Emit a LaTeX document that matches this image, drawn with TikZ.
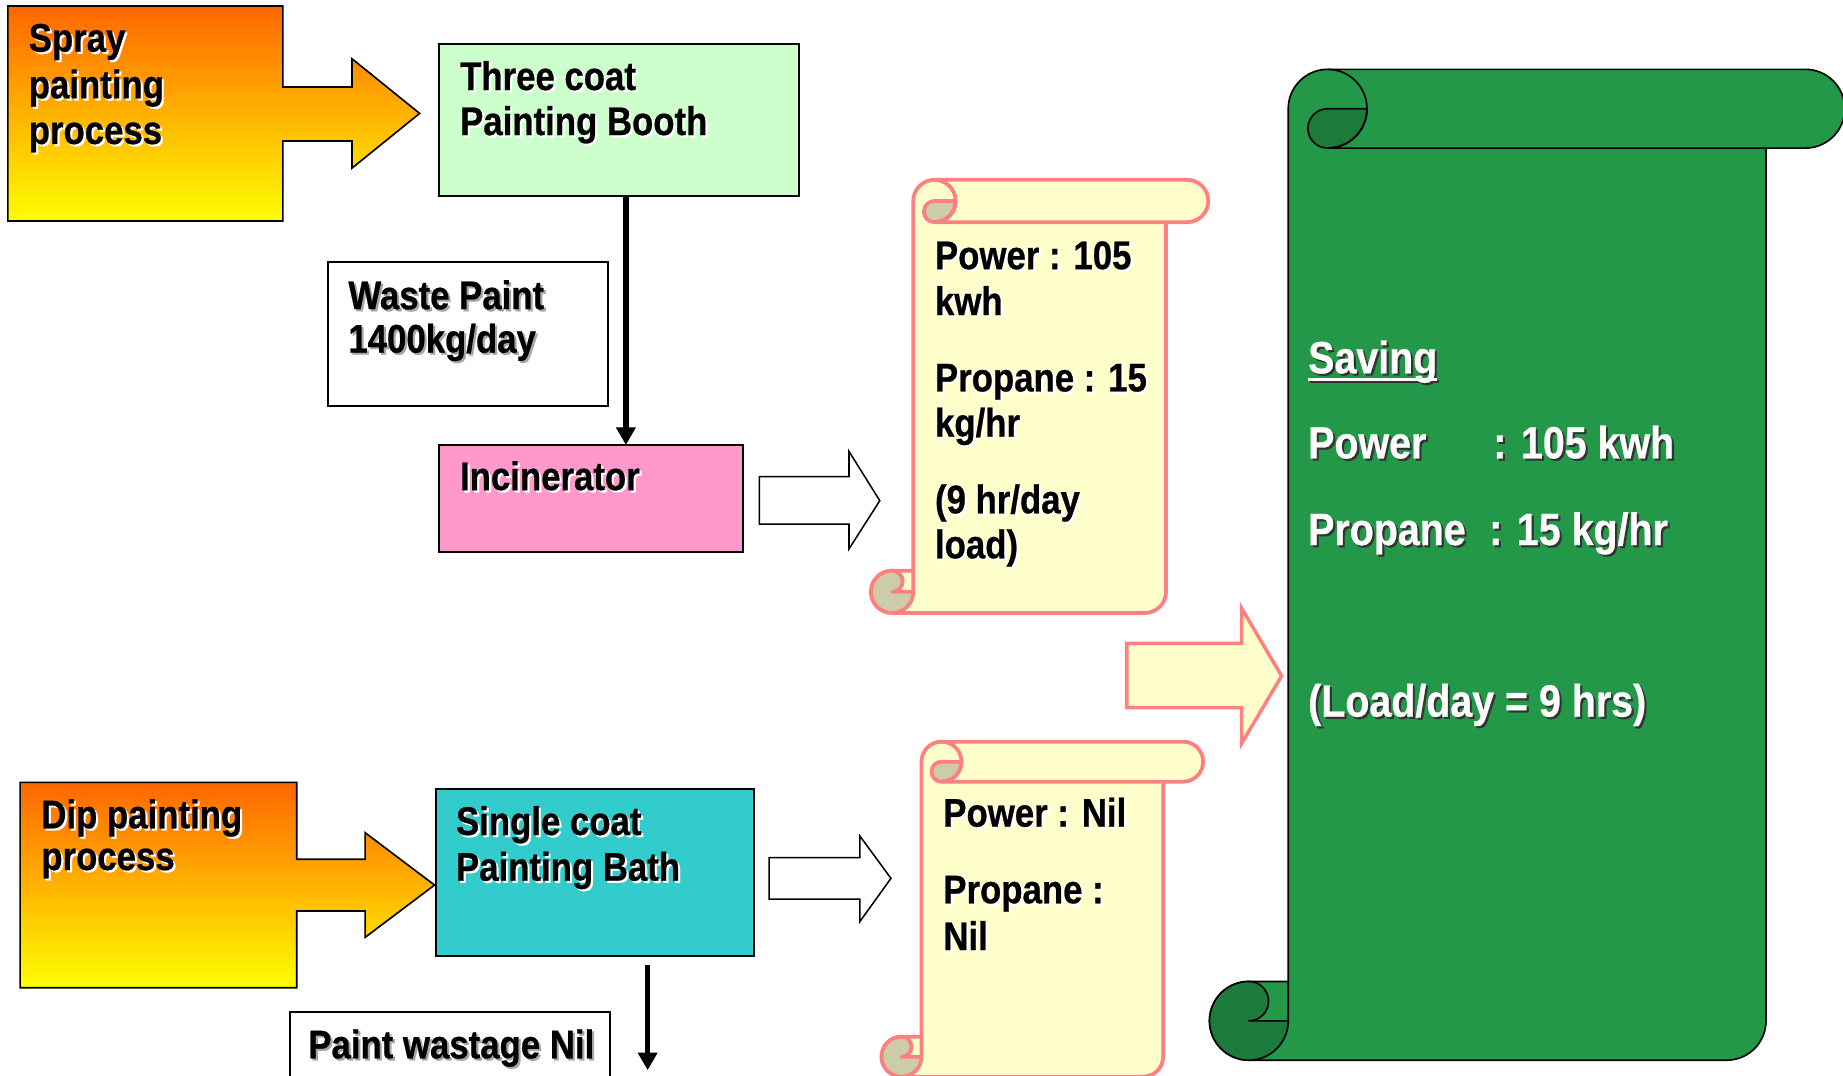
\documentclass[tikz,border=0pt]{standalone}
\usepackage{fontspec}
\setmainfont{Liberation Sans}[FakeStretch=0.87,BoldFeatures={FakeBold=0.6}]
\usetikzlibrary{arrows.meta,calc}

\definecolor{sprayorange}{RGB}{255,102,0}
\definecolor{sprayyellow}{RGB}{255,255,0}
\definecolor{boothgreen}{HTML}{CCFFCC}
\definecolor{incpink}{HTML}{FF99CC}
\definecolor{bathcyan}{HTML}{33CCCC}
\definecolor{paper}{HTML}{FFFFCC}
\definecolor{paperedge}{HTML}{FF8080}
\definecolor{papercurl}{HTML}{CCCCAA}
\definecolor{savegreen}{RGB}{35,152,72}
\definecolor{savecurl}{RGB}{28,122,58}

% text with a soft offset shadow: #1 shadow colour, #2 text
\newcommand\shd[2]{\rlap{\kern1.8pt\raisebox{-1.8pt}{\color{#1}#2}}#2}
% underlined word
\newcommand\ulbox[1]{\setbox0\hbox{#1}\rlap{\rule[-6.5pt]{\wd0}{2.4pt}}\box0}

% vertical scroll: #1 paper, #2 curl, #3 edge colour, #4 edge width,
% #5 body left, #6 top, #7 right end of the roll, #8 bottom, #9 roll size
\newcommand\scrollpaper[9]{%
  \pgfmathsetmacro\scL{#5}\pgfmathsetmacro\scT{#6}\pgfmathsetmacro\scR{#7}%
  \pgfmathsetmacro\scB{#8}\pgfmathsetmacro\scC{#9}%
  \pgfmathsetmacro\scH{\scC/2}\pgfmathsetmacro\scQ{\scC/4}%
  \pgfmathsetmacro\scBR{\scR-\scC}\pgfmathsetmacro\scX{\scL-\scH}%
  \pgfmathsetmacro\scY{\scB-\scH}\pgfmathsetmacro\scTH{\scT+\scH}%
  \pgfmathsetmacro\scTC{\scT+\scC}\pgfmathsetmacro\scBC{\scB-\scC}%
  \pgfmathsetmacro\scLH{\scL+\scH}\pgfmathsetmacro\scLC{\scL+\scC}%
  \pgfmathsetmacro\scRH{\scR-\scH}%
  \path[fill=#1,draw=#3,line width=#4,line join=round]
    (\scL,\scY) -- (\scL,\scTH)
    arc[start angle=180,end angle=90,radius=\scH pt] -- (\scRH,\scT)
    arc[start angle=90,end angle=-90,radius=\scH pt] -- (\scBR,\scTC) -- (\scBR,\scY)
    arc[start angle=0,end angle=-90,radius=\scH pt] -- (\scX,\scB)
    arc[start angle=270,end angle=90,radius=\scH pt] -- (\scL,\scBC) -- cycle;
  % bottom curl
  \path[fill=#2,draw=#3,line width=#4,line join=round]
    (\scX,\scBC) arc[start angle=90,end angle=360,radius=\scH pt] -- (\scX,\scY)
    arc[start angle=-90,end angle=90,radius=\scQ pt] -- cycle;
  % top curl
  \path[fill=#2,draw=#3,line width=#4,line join=round]
    (\scLH,\scTH) -- (\scLC,\scTH) arc[start angle=0,end angle=-90,radius=\scH pt]
    arc[start angle=270,end angle=90,radius=\scQ pt] -- cycle;
  \draw[#3,line width=#4,line cap=round]
    (\scLH,\scT) arc[start angle=90,end angle=-90,radius=\scH pt] -- (\scBR,\scTC);
}

\begin{document}
\begin{tikzpicture}[x=1pt,y=-1pt,
  box/.style={draw=black,line width=1.6pt,inner sep=0pt,outer sep=0pt,anchor=north west},
  txt/.style={inner sep=0pt,outer sep=0pt,anchor=base west,
    font=\bfseries\fontsize{34}{39}\selectfont},
  gtxt/.style={txt,text=white,font=\bfseries\fontsize{38.5}{44}\selectfont},
  sarrow/.style={line width=4.5pt,-{Triangle[length=15pt,width=16pt]}},
  hollow/.style={fill=white,draw=black,line width=1.3pt,line join=miter},
  gold/.style={draw=black,line width=1.4pt,line join=miter,
    top color=sprayorange,bottom color=sprayyellow}]
\useasboundingbox (0,0) rectangle (1568,915);
\clip (0,0) rectangle (1568,915);

% process sources with their block arrows
\path[gold] (6.7,5.1) -- (240.7,5.1) -- (240.7,74) -- (299.5,74) -- (299.5,50)
  -- (357,96.5) -- (299.5,143) -- (299.5,120) -- (240.7,120) -- (240.7,188)
  -- (6.7,188) -- cycle;
\path[gold] (17.1,665.6) -- (252.5,665.6) -- (252.5,731) -- (310.6,731)
  -- (310.6,708.4) -- (369.7,753) -- (310.6,797.5) -- (310.6,775) -- (252.5,775)
  -- (252.5,840.3) -- (17.1,840.3) -- cycle;

% boxes
\node[box,fill=boothgreen,minimum width=305.7pt,minimum height=128.8pt] (booth) at (373.8,37.7) {};
\node[box,fill=white,minimum width=238.6pt,minimum height=122.2pt] (waste) at (278.7,223.2) {};
\node[box,fill=incpink,minimum width=258.6pt,minimum height=91.4pt] (incin) at (373.4,378.6) {};
\node[box,fill=bathcyan,minimum width=270.1pt,minimum height=142pt] (bath) at (371.2,671.3) {};
\node[box,fill=white,minimum width=272.4pt,minimum height=70pt] (wastage) at (246.6,861.3) {};

% connectors
\draw[sarrow] ($(booth.south west)+(158.7,0)$) coordinate (drop) -- (drop |- incin.north);
\coordinate (wasteend) at (551,910.5);
\draw[sarrow] ($(bath.south west)+(179.8,8)$) -- (wasteend);

% hollow block arrows
\path[hollow] (646,405.5) -- (722.3,405.5) -- (722.3,384) -- (748.5,426)
  -- (722.3,467) -- (722.3,446) -- (646,446) -- cycle;
\path[hollow] (654.4,729.7) -- (731.6,729.7) -- (731.6,711.3) -- (758,747.3)
  -- (731.6,784) -- (731.6,765) -- (654.4,765) -- cycle;

% scrolls
\scrollpaper{paper}{papercurl}{paperedge}{3.2pt}{777}{153}{1028}{521.5}{36}
\scrollpaper{paper}{papercurl}{paperedge}{3.2pt}{784}{631}{1023.6}{916}{34}
\scrollpaper{savegreen}{savecurl}{black}{1.4pt}{1096}{59}{1569.5}{902}{67}

% arrow into the saving scroll
\path[fill=paper,draw=paperedge,line width=3pt,line join=miter]
  (958.6,547.3) -- (1056.4,547.3) -- (1056.4,517.6) -- (1090.4,575.1)
  -- (1056.4,632.4) -- (1056.4,602.1) -- (958.6,602.1) -- cycle;

% labels
\node[txt] (spray1) at (24.5,44) {\shd{white}{Spray}};
\node[txt] (spray2) at (24.5,83.7) {\shd{white}{painting}};
\node[txt] (spray3) at (24.5,122.5) {\shd{white}{process}};
\node[txt] (booth1) at (391.5,76.6) {\shd{white}{Three coat}};
\node[txt] (booth2) at (391.5,114.9) {\shd{white}{Painting Booth}};
\node[txt] (waste1) at (296.4,263) {\shd{black!35}{Waste Paint}};
\node[txt] (waste2) at (296.4,300) {\shd{black!35}{1400kg/day}};
\node[txt] (incin1) at (391.4,417) {\shd{white}{Incinerator}};
\node[txt] (dip1) at (35.2,704.7) {\shd{white}{Dip painting}};
\node[txt] (dip2) at (35.2,740.2) {\shd{white}{process}};
\node[txt] (bath1) at (388,710.4) {\shd{white}{Single coat}};
\node[txt] (bath2) at (388,749.3) {\shd{white}{Painting Bath}};
\node[txt] (wastage1) at (262.3,900.4) {\shd{black!35}{Paint wastage Nil}};

\node[txt] (inc1) at (795.5,229) {\shd{white}{Power : 105}};
\node[txt] (inc2) at (795.5,268) {\shd{white}{kwh}};
\node[txt] (inc3) at (795.5,333) {\shd{white}{Propane : 15}};
\node[txt] (inc4) at (795.5,371.5) {\shd{white}{kg/hr}};
\node[txt] (inc5) at (795.5,436.7) {\shd{white}{(9 hr/day}};
\node[txt] (inc6) at (795.5,475) {\shd{white}{load)}};

\node[txt] (dipr1) at (802.6,703.3) {\shd{white}{Power : Nil}};
\node[txt] (dipr2) at (802.6,768.5) {\shd{white}{Propane :}};
\node[txt] (dipr3) at (802.6,808.3) {\shd{white}{Nil}};

\node[gtxt] (save1) at (1113,317.6) {\shd{black!80}{\ulbox{Saving}}};
\node[gtxt] (save2) at (1113,390) {\shd{black!80}{\makebox[157.5pt][l]{Power}: 105 kwh}};
\node[gtxt] (save3) at (1113,463.7) {\shd{black!80}{\makebox[154pt][l]{Propane}: 15 kg/hr}};
\node[gtxt] (save4) at (1113,609.7) {\shd{black!80}{(Load/day = 9 hrs)}};
\end{tikzpicture}
\end{document}
